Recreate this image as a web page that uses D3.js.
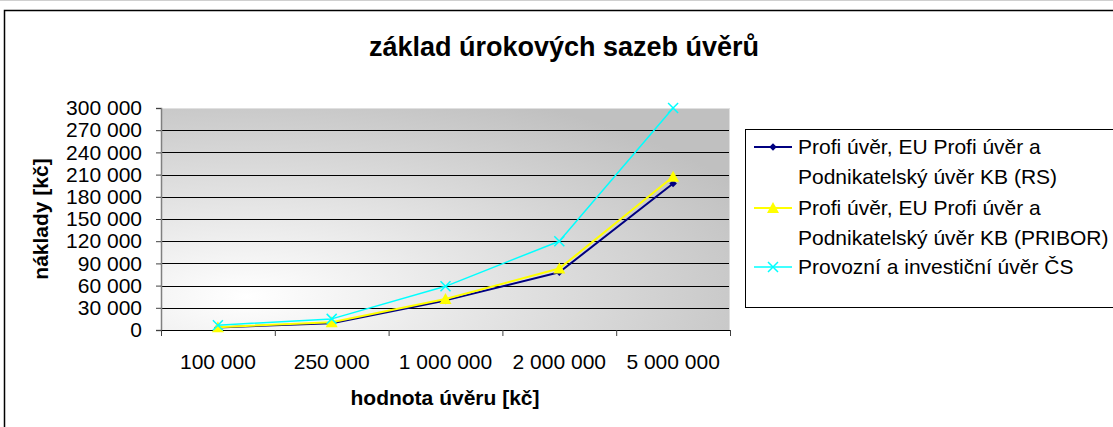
<!DOCTYPE html>
<html lang="cs">
  <head>
    <meta charset="UTF-8" />
    <title>základ úrokových sazeb úvěrů</title>
    <style>
      body { margin: 0; background: #fff; }
      svg text { font-family: "Liberation Sans", Arial, sans-serif; }
    </style>
  </head>
  <body>
    <div id="chart">
      <svg width="1113" height="427"></svg>
    </div>
    <script src="https://d3js.org/d3.v7.min.js"></script>
    <script>
      // data
      var categories = ["100 000", "250 000", "1 000 000", "2 000 000", "5 000 000"];
      var seriesNames = [
        ["Profi úvěr, EU Profi úvěr a", "Podnikatelský úvěr KB (RS)"],
        ["Profi úvěr, EU Profi úvěr a", "Podnikatelský úvěr KB (PRIBOR)"],
        ["Provozní a investiční úvěr ČS"]
      ];
      var rsValues = [3500, 9000, 40000, 78000, 198000];
      var priborValues = [3800, 10500, 42000, 83000, 207000];
      var csValues = [6500, 15000, 59000, 120000, 300000];
      var yTicks = [0, 30000, 60000, 90000, 120000, 150000, 180000, 210000, 240000, 270000, 300000];

      var svg = d3.select("#chart>svg");
      var margin = { top: 108, left: 161 };
      var width = 569;
      var height = 222;

      // outer chart border (runs off the right / bottom edge)
      svg.append("line")
        .attr("x1", 0).attr("x2", 1113).attr("y1", 0.5).attr("y2", 0.5)
        .attr("stroke", "#d0d0d0");
      svg.append("rect")
        .attr("x", 4.5).attr("y", 10.5)
        .attr("width", 1130).attr("height", 440)
        .attr("fill", "#fff").attr("stroke", "#000").attr("stroke-width", 1.5);

      svg.append("text")
        .attr("x", 564).attr("y", 56)
        .attr("text-anchor", "middle")
        .attr("font-size", 27).attr("font-weight", "bold")
        .text("základ úrokových sazeb úvěrů");

      var defs = svg.append("defs");
      var grad = defs.append("radialGradient")
        .attr("id", "bg")
        .attr("cx", 0.15).attr("cy", 0.85).attr("r", 1.0)
        .attr("fx", 0.15).attr("fy", 0.85);
      grad.append("stop").attr("offset", "0%").attr("stop-color", "#ffffff");
      grad.append("stop").attr("offset", "100%").attr("stop-color", "#c0c0c0");

      var g = svg.append("g")
        .attr("transform", "translate(" + margin.left + "," + margin.top + ")");

      g.append("rect")
        .attr("width", width).attr("height", height)
        .attr("fill", "url(#bg)");

      var x = d3.scaleBand().domain(categories).range([0, width]);
      var xEdge = d3.scaleLinear().domain([0, categories.length]).range([0, width]);
      var y = d3.scaleLinear().domain([0, 300000]).range([height, 0]);

      // gridlines
      g.append("g")
        .selectAll("line")
        .data(yTicks)
        .join("line")
        .attr("x1", 0).attr("x2", width)
        .attr("y1", function (d) { return Math.round(y(d)) + 0.5; })
        .attr("y2", function (d) { return Math.round(y(d)) + 0.5; })
        .attr("stroke", function (d) { return d === 300000 ? "#e0e0e0" : "#000"; })
        .attr("stroke-width", 1);

      g.append("line")
        .attr("x1", width - 0.5).attr("x2", width - 0.5)
        .attr("y1", 0).attr("y2", height)
        .attr("stroke", "#e0e0e0");

      var fmt = function (d) { return d3.format(",")(d).replace(/,/g, " "); };

      var yAxis = g.append("g")
        .call(d3.axisLeft(y).tickValues(yTicks).tickSize(5).tickPadding(14).tickFormat(fmt));
      yAxis.select(".domain").attr("stroke", "#808080").attr("stroke-width", 1.5);
      yAxis.selectAll(".tick line").attr("stroke", "#404040");
      yAxis.selectAll("text").attr("font-size", 21).attr("fill", "#000")
        .style("font-family", "'Liberation Sans', Arial, sans-serif");

      // x axis: ticks on category edges, labels at centers
      var xTickAxis = g.append("g")
        .attr("transform", "translate(0," + height + ")")
        .call(d3.axisBottom(xEdge).ticks(categories.length).tickSize(6).tickFormat(""));
      xTickAxis.select(".domain").attr("stroke", "#000").attr("d", "M0.5,0.5H" + width);
      xTickAxis.selectAll(".tick line").attr("stroke", "#404040");

      var xLabels = g.append("g")
        .attr("transform", "translate(0," + height + ")")
        .call(d3.axisBottom(x).tickSize(0).tickPadding(24));
      xLabels.select(".domain").remove();
      xLabels.selectAll("text").attr("font-size", 21).attr("fill", "#000")
        .style("font-family", "'Liberation Sans', Arial, sans-serif");

      svg.append("text")
        .attr("x", 445).attr("y", 405)
        .attr("text-anchor", "middle")
        .attr("font-size", 21).attr("font-weight", "bold")
        .text("hodnota úvěru [kč]");

      svg.append("text")
        .attr("transform", "translate(48,219) rotate(-90)")
        .attr("text-anchor", "middle")
        .attr("font-size", 21).attr("font-weight", "bold")
        .text("náklady [kč]");

      var series = [
        { values: rsValues, color: "#000080", width: 2, marker: "diamond" },
        { values: priborValues, color: "#ffff00", width: 2, marker: "triangle" },
        { values: csValues, color: "#00ffff", width: 1.5, marker: "cross" }
      ];

      var line = d3.line()
        .x(function (d, i) { return x(categories[i]) + x.bandwidth() / 2; })
        .y(function (d) { return y(d); });

      function drawMarker(sel, s) {
        if (s.marker === "diamond") {
          sel.append("path")
            .attr("d", d3.symbol(d3.symbolDiamond2, 36))
            .attr("fill", s.color);
        } else if (s.marker === "triangle") {
          sel.append("path")
            .attr("d", "M0,-6L6,5L-6,5Z")
            .attr("fill", s.color);
        } else {
          sel.append("path")
            .attr("d", "M-5,-5L5,5M-5,5L5,-5")
            .attr("stroke", s.color).attr("stroke-width", 1.5).attr("fill", "none");
        }
      }

      series.forEach(function (s) {
        g.append("path")
          .datum(s.values)
          .attr("fill", "none")
          .attr("stroke", s.color)
          .attr("stroke-width", s.width)
          .attr("stroke-linejoin", "round")
          .attr("d", line);
        g.append("g")
          .selectAll("g")
          .data(s.values)
          .join("g")
          .attr("transform", function (d, i) {
            return "translate(" + (x(categories[i]) + x.bandwidth() / 2) + "," + y(d) + ")";
          })
          .each(function () { drawMarker(d3.select(this), s); });
      });

      // legend
      var legend = svg.append("g").attr("transform", "translate(745,129)");
      legend.append("rect")
        .attr("x", 0.5).attr("y", 0.5)
        .attr("width", 400).attr("height", 178)
        .attr("fill", "#fff").attr("stroke", "#000");

      var rowY = [18, 79, 138];
      series.forEach(function (s, i) {
        var item = legend.append("g").attr("transform", "translate(0," + rowY[i] + ")");
        item.append("line")
          .attr("x1", 9).attr("x2", 47).attr("y1", 0).attr("y2", 0)
          .attr("stroke", s.color).attr("stroke-width", s.width);
        var m = item.append("g").attr("transform", "translate(28,0)");
        drawMarker(m, s);
        var t = item.append("text")
          .attr("x", 53).attr("y", 7)
          .attr("font-size", 21).attr("fill", "#000");
        seriesNames[i].forEach(function (txt, j) {
          t.append("tspan").attr("x", 53).attr("dy", j === 0 ? 0 : 30).text(txt);
        });
      });
    </script>
  </body>
</html>
